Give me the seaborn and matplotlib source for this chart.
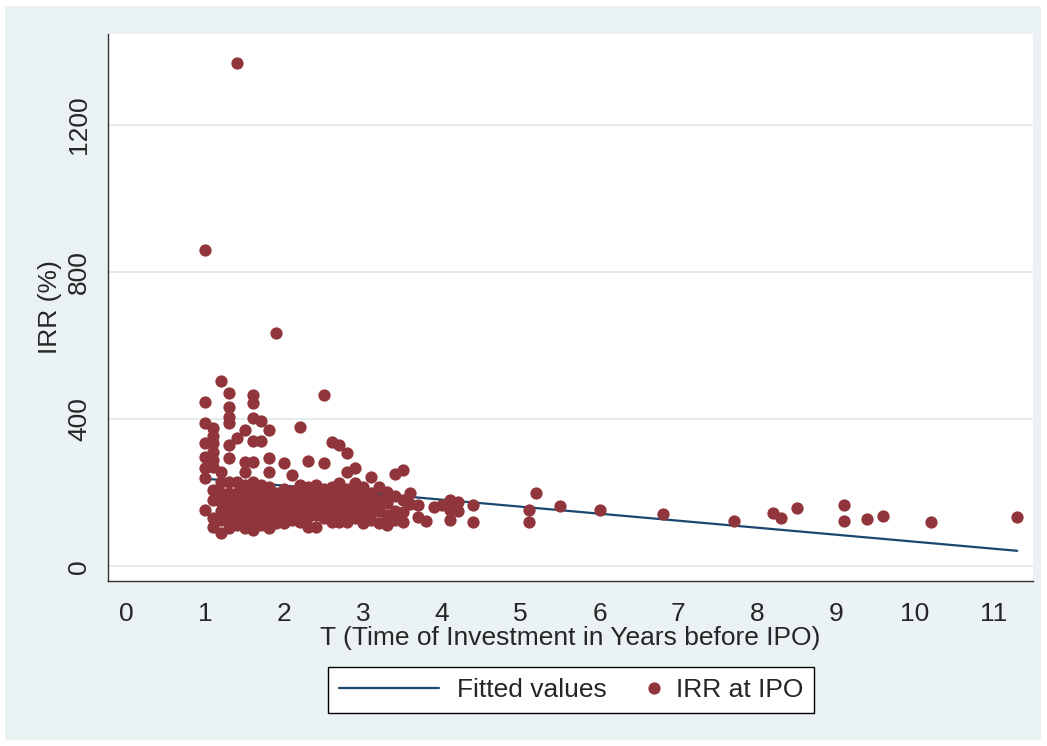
import numpy as np
import pandas as pd
import matplotlib
matplotlib.use('Agg')
import matplotlib.pyplot as plt
from matplotlib.lines import Line2D
from matplotlib.patches import Rectangle
from matplotlib.legend_handler import HandlerLine2D
import seaborn as sns

# Data: T (years before IPO) and IRR (%)
t_years = [
    1.0, 1.0, 1.0, 1.0, 1.0, 1.0, 1.0, 1.0,
    1.1, 1.1, 1.1, 1.1, 1.1, 1.1, 1.1, 1.1, 1.1, 1.1,
    1.2, 1.2, 1.2, 1.2, 1.2, 1.2, 1.2, 1.2,
    1.3, 1.3, 1.3, 1.3, 1.3, 1.3, 1.3, 1.3, 1.3, 1.3, 1.3, 1.3,
    1.4, 1.4, 1.4, 1.4, 1.4, 1.4, 1.4, 1.4,
    1.5, 1.5, 1.5, 1.5, 1.5, 1.5, 1.5, 1.5, 1.5,
    1.6, 1.6, 1.6, 1.6, 1.6, 1.6, 1.6, 1.6, 1.6, 1.6, 1.6, 1.6,
    1.7, 1.7, 1.7, 1.7, 1.7, 1.7, 1.7, 1.7,
    1.8, 1.8, 1.8, 1.8, 1.8, 1.8, 1.8, 1.8, 1.8,
    1.9, 1.9, 1.9, 1.9, 1.9, 1.9,
    2.0, 2.0, 2.0, 2.0, 2.0, 2.0, 2.0,
    2.1, 2.1, 2.1, 2.1, 2.1, 2.1,
    2.2, 2.2, 2.2, 2.2, 2.2, 2.2, 2.2,
    2.3, 2.3, 2.3, 2.3, 2.3, 2.3, 2.3,
    2.4, 2.4, 2.4, 2.4, 2.4, 2.4,
    2.5, 2.5, 2.5, 2.5, 2.5, 2.5, 2.5,
    2.6, 2.6, 2.6, 2.6, 2.6, 2.6, 2.6,
    2.7, 2.7, 2.7, 2.7, 2.7, 2.7, 2.7,
    2.8, 2.8, 2.8, 2.8, 2.8, 2.8, 2.8,
    2.9, 2.9, 2.9, 2.9, 2.9, 2.9,
    3.0, 3.0, 3.0, 3.0, 3.0,
    3.1, 3.1, 3.1, 3.1, 3.1,
    3.2, 3.2, 3.2, 3.2,
    3.3, 3.3, 3.3, 3.3,
    3.4, 3.4, 3.4, 3.4,
    3.5, 3.5, 3.5, 3.5,
    3.6, 3.6,
    3.7, 3.7,
    3.8,
    3.9,
    4.0,
    4.1, 4.1, 4.1,
    4.2, 4.2,
    4.4, 4.4,
    5.1, 5.1, 5.2, 5.5, 6.0, 6.8, 7.7, 8.2, 8.3, 8.5,
    9.1, 9.1, 9.4, 9.6, 10.2, 11.3,
]
irr_pct = [
    859, 447, 388, 334, 298, 266, 239, 153,
    375, 355, 334, 311, 290, 270, 207, 180, 130, 108,
    503, 257, 230, 200, 175, 150, 125, 90,
    471, 433, 406, 388, 329, 293, 230, 200, 175, 150, 125, 105,
    1366, 348, 230, 200, 180, 160, 140, 112,
    370, 284, 257, 220, 195, 170, 145, 125, 103,
    465, 443, 403, 340, 284, 230, 205, 185, 165, 145, 125, 99,
    395, 340, 220, 195, 175, 155, 130, 112,
    370, 293, 257, 215, 190, 165, 140, 120, 103,
    633, 200, 180, 160, 140, 118,
    280, 210, 190, 170, 150, 130, 117,
    248, 205, 185, 165, 145, 125,
    379, 220, 200, 180, 160, 140, 120,
    286, 215, 195, 175, 155, 135, 108,
    220, 200, 180, 160, 140, 108,
    465, 280, 210, 190, 170, 150, 130,
    338, 215, 195, 175, 155, 135, 120,
    329, 225, 200, 180, 160, 140, 121,
    307, 257, 210, 190, 170, 150, 121,
    266, 225, 195, 175, 150, 130,
    216, 190, 165, 140, 117,
    243, 200, 175, 150, 125,
    216, 180, 150, 117,
    203, 172, 140, 112,
    252, 190, 150, 125,
    262, 180, 148, 121,
    200, 170,
    166, 135,
    122,
    162,
    166,
    180, 153, 126,
    175, 150,
    166, 121,
    153, 121, 200, 164, 153, 142, 123, 144, 130, 159,
    166, 124, 128, 137, 121, 133,
]

# Fitted values (linear fit line, end points)
fit_t = [1.0, 11.3]
fit_irr = [238, 42]

x_ticks = list(range(0, 12))
y_ticks = [0, 400, 800, 1200]

navy = '#1A476F'
maroon = '#90353B'
bg = '#EAF2F3'

sns.set_style('white')
plt.rcParams['font.family'] = ['Liberation Sans', 'DejaVu Sans']

df = pd.DataFrame({'t': t_years, 'irr': irr_pct})
fit_df = pd.DataFrame({'t': fit_t, 'irr': fit_irr})

fig = plt.figure(figsize=(10.47, 7.46), dpi=100)
fig.patch.set_facecolor('white')
fig.patches.append(Rectangle((5 / 1047, 6 / 746), 1036 / 1047, 734 / 746,
                             transform=fig.transFigure, facecolor=bg,
                             edgecolor='none', zorder=-10))

ax = fig.add_axes([108 / 1047, 1 - 581 / 746, 925 / 1047, (581 - 34) / 746])
ax.set_facecolor('white')

sns.lineplot(data=fit_df, x='t', y='irr', ax=ax, color=navy, linewidth=1.6,
             legend=False, zorder=2)
sns.scatterplot(data=df, x='t', y='irr', ax=ax, color=maroon, s=78,
                linewidth=0, legend=False, zorder=3)

ax.set_xlim(-0.237, 11.5)
ax.set_ylim(-40, 1446)
ax.set_xticks(x_ticks)
ax.set_yticks(y_ticks)
ax.set_yticklabels([str(v) for v in y_ticks], rotation=90, va='center')
ax.tick_params(axis='both', labelsize=19, length=8, width=1, color='#333333',
               direction='out')
ax.tick_params(axis='x', pad=7)
ax.tick_params(axis='y', pad=4)
ax.set_axisbelow(True)
ax.yaxis.grid(True, color='#E1E9EC', linewidth=1.3)
ax.xaxis.grid(False)

for side in ['top', 'right']:
    ax.spines[side].set_visible(False)
for side in ['left', 'bottom']:
    ax.spines[side].set_color('#333333')
    ax.spines[side].set_linewidth(1.0)

ax.set_xlabel('T (Time of Investment in Years before IPO)', fontsize=19, labelpad=0)
ax.set_ylabel('IRR (%)', fontsize=19, labelpad=4)

line_h = Line2D([], [], color=navy, linewidth=1.6)
dot_h = Line2D([], [], color=maroon, marker='o', linestyle='', markersize=8.8,
               markeredgewidth=0)
leg = ax.legend([line_h, dot_h], ['Fitted values', 'IRR at IPO'],
                loc='center', bbox_to_anchor=(571 / 1047, 1 - 690 / 746),
                bbox_transform=fig.transFigure, ncol=2, fontsize=19,
                frameon=True, fancybox=False, framealpha=1,
                edgecolor='black', borderpad=0.42, handlelength=3.8,
                handletextpad=0.68, columnspacing=-1.85,
                handler_map={dot_h: HandlerLine2D(numpoints=1, xpad=3.5)})
leg.get_frame().set_linewidth(1.0)

fig.savefig('out.png', dpi=100, facecolor=fig.get_facecolor())
